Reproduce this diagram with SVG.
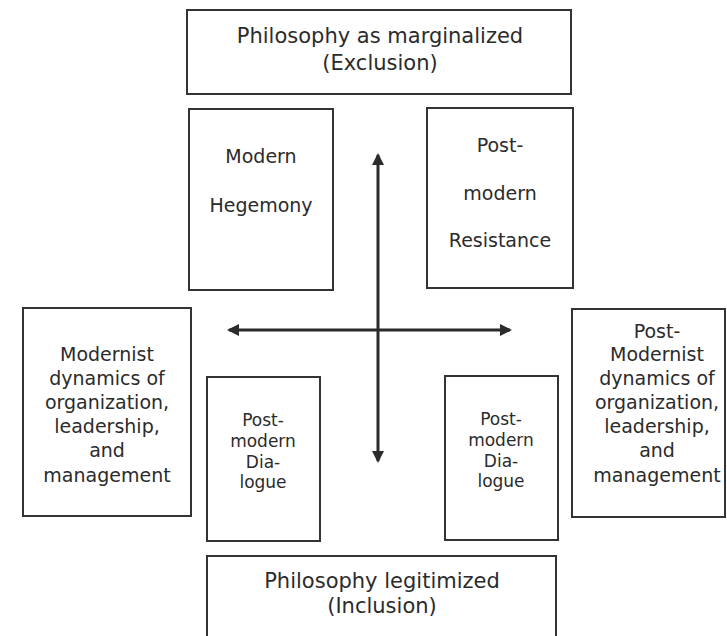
<svg xmlns="http://www.w3.org/2000/svg" width="727" height="636" viewBox="0 0 727 636">
  <style>
    .box { fill: #ffffff; stroke: #333333; stroke-width: 2; }
    text { font-family: "DejaVu Sans", Verdana, sans-serif; fill: #2b2b2b; text-anchor: middle; }
    .t21 { font-size: 21px; }
    .t19 { font-size: 19px; }
    .t17 { font-size: 17px; }
    .arrow { stroke: #2b2b2b; stroke-width: 3; fill: none; }
  </style>
  <defs>
    <marker id="head" viewBox="0 0 12 12" refX="10" refY="6" markerWidth="12" markerHeight="12" markerUnits="userSpaceOnUse" orient="auto-start-reverse">
      <path d="M0,0 L12,6 L0,12 z" fill="#2b2b2b"/>
    </marker>
  </defs>
  <rect width="727" height="636" fill="#ffffff"/>

  <g id="node-exclusion">
    <rect class="box" x="187" y="10" width="384" height="84"/>
    <text class="t21" x="380" y="43">Philosophy as marginalized</text>
    <text class="t21" x="380" y="70">(Exclusion)</text>
  </g>

  <g id="node-modern-hegemony">
    <rect class="box" x="189" y="109" width="144" height="181"/>
    <text class="t19" x="261" y="163">Modern</text>
    <text class="t19" x="261" y="212">Hegemony</text>
  </g>

  <g id="node-postmodern-resistance">
    <rect class="box" x="427" y="108" width="146" height="180"/>
    <text class="t19" x="500" y="152">Post-</text>
    <text class="t19" x="500" y="200">modern</text>
    <text class="t19" x="500" y="247">Resistance</text>
  </g>

  <g id="node-modernist-dynamics">
    <rect class="box" x="23" y="308" width="168" height="208"/>
    <text class="t19" x="107" y="361">Modernist</text>
    <text class="t19" x="107" y="385">dynamics of</text>
    <text class="t19" x="107" y="409">organization,</text>
    <text class="t19" x="107" y="433">leadership,</text>
    <text class="t19" x="107" y="457">and</text>
    <text class="t19" x="107" y="482">management</text>
  </g>

  <g id="node-dialogue-left">
    <rect class="box" x="207" y="377" width="113" height="164"/>
    <text class="t17" x="263" y="426">Post-</text>
    <text class="t17" x="263" y="447">modern</text>
    <text class="t17" x="263" y="468">Dia-</text>
    <text class="t17" x="263" y="488">logue</text>
  </g>

  <g id="node-dialogue-right">
    <rect class="box" x="445" y="376" width="113" height="164"/>
    <text class="t17" x="501" y="425">Post-</text>
    <text class="t17" x="501" y="446">modern</text>
    <text class="t17" x="501" y="467">Dia-</text>
    <text class="t17" x="501" y="487">logue</text>
  </g>

  <g id="node-postmodernist-dynamics">
    <rect class="box" x="572" y="309" width="153" height="208"/>
    <text class="t19" x="657" y="338">Post-</text>
    <text class="t19" x="657" y="361">Modernist</text>
    <text class="t19" x="657" y="385">dynamics of</text>
    <text class="t19" x="657" y="409">organization,</text>
    <text class="t19" x="657" y="433">leadership,</text>
    <text class="t19" x="657" y="457">and</text>
    <text class="t19" x="657" y="482">management</text>
  </g>

  <g id="node-inclusion">
    <rect class="box" x="207" y="556" width="349" height="100"/>
    <text class="t21" x="382" y="588">Philosophy legitimized</text>
    <text class="t21" x="382" y="613">(Inclusion)</text>
  </g>

  <g id="connectors">
    <line class="arrow" x1="378" y1="155" x2="378" y2="461" marker-start="url(#head)" marker-end="url(#head)"/>
    <line class="arrow" x1="229" y1="330" x2="510" y2="330" marker-start="url(#head)" marker-end="url(#head)"/>
  </g>
</svg>
